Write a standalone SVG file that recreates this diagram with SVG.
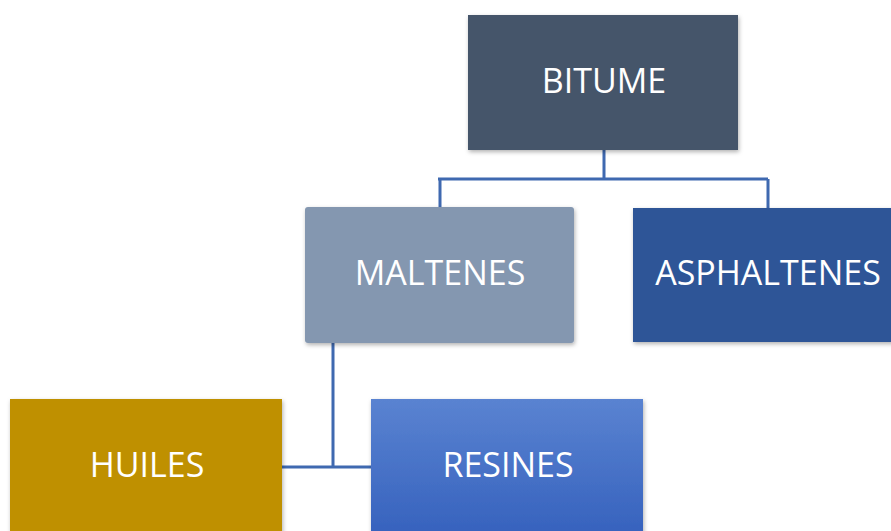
<svg xmlns="http://www.w3.org/2000/svg" width="891" height="531" viewBox="0 0 891 531">
  <style>
    .lbl { font-family: "Open Sans", "Noto Sans", sans-serif; font-size: 34px; fill: #ffffff; text-anchor: middle; }
    .conn { fill: none; stroke: #3F69B0; stroke-width: 3; }
    .box { filter: url(#sh); }
  </style>
  <defs>
    <filter id="sh" x="-10%" y="-10%" width="120%" height="130%">
      <feDropShadow dx="1" dy="2" stdDeviation="2" flood-color="#000000" flood-opacity="0.3"/>
    </filter>
    <linearGradient id="gRes" x1="0" y1="0" x2="0" y2="1">
      <stop offset="0" stop-color="#5A83D1"/>
      <stop offset="1" stop-color="#3561BD"/>
    </linearGradient>
  </defs>
  <rect width="891" height="531" fill="#ffffff"/>
  <g id="connectors">
    <path class="conn" d="M604 150 V179 M438 179 H768 M440 179 V207 M768 179 V208"/>
    <path class="conn" d="M333 343 V467 M282 467 H371"/>
  </g>
  <g id="bitume">
    <rect class="box" x="468" y="15" width="270" height="135" fill="#44546A"/>
    <text class="lbl" x="604" y="93">BITUME</text>
  </g>
  <g id="maltenes">
    <rect class="box" x="305" y="207" width="269" height="136" rx="3" fill="#8497B0"/>
    <text class="lbl" x="440" y="285">MALTENES</text>
  </g>
  <g id="asphaltenes">
    <rect class="box" x="633" y="208" width="270" height="134" fill="#2F5597"/>
    <text class="lbl" x="768" y="285">ASPHALTENES</text>
  </g>
  <g id="huiles">
    <rect class="box" x="10" y="399" width="272" height="140" fill="#BF9000"/>
    <text class="lbl" x="147" y="477">HUILES</text>
  </g>
  <g id="resines">
    <rect class="box" x="371" y="399" width="272" height="140" fill="url(#gRes)"/>
    <text class="lbl" x="508" y="477">RESINES</text>
  </g>
</svg>
